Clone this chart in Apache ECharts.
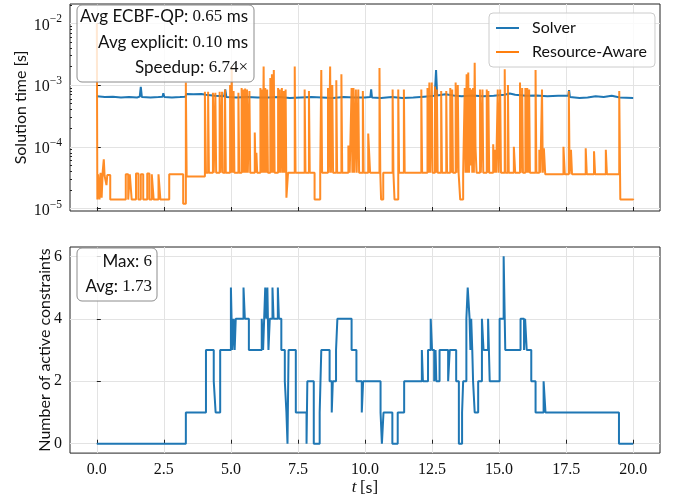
<!DOCTYPE html>
<html>
<head>
<meta charset="utf-8">
<script src="https://cdn.jsdelivr.net/npm/echarts@6/dist/echarts.min.js"></script>
<style>
  html, body { margin: 0; padding: 0; background: #fff; }
  #main { width: 673px; height: 497px; }
</style>
</head>
<body>
<div id="main"></div>
<script>
// tick values
const xTicks = [0, 2.5, 5, 7.5, 10, 12.5, 15, 17.5, 20];
const logTicks = [1e-5, 1e-4, 1e-3, 1e-2];
const logMinor = [];
[1e-5, 1e-4, 1e-3].forEach(function (d) {
  for (let k = 2; k <= 9; k++) logMinor.push(d * k);
});
logMinor.push(2e-2);
const countTicks = [0, 2, 4, 6];

// solver time (blue), [t, seconds]
const solver = [
  [0, 6.6e-4], [0.3, 6.4e-4], [0.6, 6.5e-4], [0.9, 6.3e-4], [1.2, 6.4e-4], [1.5, 6.3e-4],
  [1.6, 6.5e-4], [1.64, 9.4e-4], [1.68, 6.4e-4], [2.0, 6.3e-4], [2.3, 6.4e-4], [2.45, 6.5e-4],
  [2.48, 7.4e-4], [2.52, 6.4e-4], [2.8, 6.3e-4], [3.1, 6.4e-4], [3.3, 6.5e-4], [3.35, 7.2e-4],
  [3.6, 7.1e-4], [3.9, 7.2e-4], [4.06, 7.0e-4], [4.1, 6.6e-4], [4.4, 6.7e-4], [4.75, 6.6e-4],
  [4.79, 8.5e-4], [4.83, 6.4e-4], [5.2, 6.3e-4], [5.6, 6.4e-4], [6.0, 6.3e-4], [6.4, 6.3e-4],
  [6.8, 6.4e-4], [7.2, 6.2e-4], [7.6, 6.3e-4], [8.0, 6.4e-4], [8.4, 6.3e-4], [8.8, 6.2e-4],
  [9.2, 6.4e-4], [9.6, 6.3e-4], [10.0, 6.3e-4], [10.2, 6.4e-4], [10.23, 8.5e-4], [10.26, 6.3e-4],
  [10.6, 6.2e-4], [11.0, 6.4e-4], [11.4, 6.2e-4], [11.8, 6.3e-4], [12.2, 6.5e-4], [12.6, 6.7e-4],
  [12.65, 1.75e-3], [12.69, 6.8e-4], [13.0, 7.1e-4], [13.3, 6.8e-4], [13.6, 6.6e-4], [14.0, 6.8e-4],
  [14.4, 6.6e-4], [14.8, 6.7e-4], [15.2, 7.0e-4], [15.4, 7.3e-4], [15.6, 7.0e-4], [16.0, 6.7e-4],
  [16.4, 6.8e-4], [16.8, 6.6e-4], [17.2, 6.7e-4], [17.58, 6.7e-4], [17.61, 8.3e-4], [17.64, 6.4e-4],
  [18.0, 6.2e-4], [18.3, 6.3e-4], [18.6, 6.6e-4], [18.9, 6.4e-4], [19.2, 6.7e-4], [19.5, 6.3e-4],
  [20.0, 6.2e-4]
];

// resource-aware time (orange), [t, seconds], value holds until next t
const resourceAware = [
  [0, 1.0e-2], [0.02, 1.4e-5], [0.05, 3.6e-5], [0.10, 1.4e-5], [0.14, 3.8e-5], [0.18, 1.5e-5],
  [0.22, 4.0e-5], [0.26, 6.3e-5], [0.29, 3.4e-5], [0.36, 2.4e-5], [0.39, 3.5e-5], [0.50, 1.4e-5],
  [1.08, 3.6e-5], [1.17, 1.4e-5], [1.23, 3.6e-5], [1.30, 1.4e-5], [1.46, 3.7e-5], [1.55, 1.4e-5],
  [1.64, 3.6e-5], [1.73, 1.4e-5], [1.88, 3.7e-5], [1.96, 1.4e-5], [2.05, 3.6e-5], [2.12, 1.4e-5],
  [2.30, 3.6e-5], [2.37, 1.4e-5], [2.70, 3.6e-5], [3.22, 1.2e-5], [3.32, 1.1e-3], [3.35, 3.3e-5],
  [4.03, 7.8e-4], [4.07, 3.8e-5], [4.15, 7.8e-4], [4.18, 3.8e-5], [4.33, 7.5e-4], [4.36, 3.8e-5],
  [4.42, 7.5e-4], [4.45, 3.8e-5], [4.58, 7.8e-4], [4.62, 3.8e-5], [4.67, 7.8e-4], [4.70, 3.8e-5],
  [4.78, 8.5e-4], [4.81, 3.8e-5], [4.97, 1.0e-3], [5.00, 3.8e-5], [5.03, 2.0e-3], [5.06, 3.8e-5],
  [5.10, 8.0e-4], [5.13, 3.8e-5], [5.28, 7.5e-4], [5.31, 3.8e-5], [5.40, 9.0e-4], [5.43, 3.8e-5],
  [5.47, 8.5e-4], [5.50, 3.8e-5], [5.53, 8.8e-4], [5.56, 3.8e-5], [5.60, 8.5e-4], [5.63, 3.8e-5],
  [5.69, 8.0e-4], [5.72, 3.8e-5], [5.89, 1.7e-4], [5.92, 3.8e-5], [5.95, 8.0e-5], [5.98, 3.8e-5],
  [6.10, 9.0e-4], [6.13, 3.8e-5], [6.16, 8.5e-4], [6.19, 3.8e-5], [6.22, 2.0e-3], [6.25, 3.8e-5],
  [6.28, 9.0e-4], [6.31, 3.8e-5], [6.35, 8.5e-4], [6.38, 3.8e-5], [6.47, 1.3e-3], [6.50, 3.8e-5],
  [6.53, 1.5e-3], [6.56, 3.8e-5], [6.60, 1.75e-3], [6.63, 3.8e-5], [6.76, 9.0e-4], [6.79, 3.8e-5],
  [6.82, 8.5e-4], [6.85, 3.8e-5], [6.90, 9.0e-4], [6.93, 3.8e-5], [6.97, 8.0e-4], [7.00, 3.8e-5],
  [7.04, 8.5e-4], [7.07, 1.5e-5], [7.13, 3.8e-5], [7.38, 2.0e-3], [7.41, 3.8e-5], [7.75, 8.5e-4],
  [7.78, 3.8e-5], [7.91, 8.0e-4], [7.94, 3.8e-5], [8.12, 1.4e-5], [8.33, 3.8e-5], [8.37, 1.75e-3],
  [8.40, 3.8e-5], [8.62, 9.0e-4], [8.65, 3.8e-5], [8.70, 2.0e-3], [8.73, 3.8e-5], [8.78, 1.0e-3],
  [8.81, 3.8e-5], [8.93, 1.2e-3], [8.96, 3.8e-5], [9.12, 1.5e-3], [9.15, 3.8e-5], [9.38, 1.05e-4],
  [9.43, 3.8e-5], [9.50, 9.0e-4], [9.53, 3.8e-5], [9.57, 9.0e-4], [9.60, 3.8e-5], [9.66, 8.5e-4],
  [9.69, 3.8e-5], [9.75, 8.5e-4], [9.78, 3.8e-5], [9.92, 8.0e-4], [9.95, 3.8e-5], [10.12, 1.65e-4],
  [10.19, 3.8e-5], [10.54, 1.9e-3], [10.57, 3.8e-5], [10.60, 1.4e-5], [10.68, 3.8e-5], [11.03, 8.5e-4],
  [11.06, 3.8e-5], [11.10, 1.4e-5], [11.24, 8.5e-4], [11.27, 3.8e-5], [11.45, 8.5e-4], [11.48, 3.8e-5],
  [12.10, 8.5e-4], [12.13, 3.8e-5], [12.33, 9.0e-4], [12.36, 3.8e-5], [12.40, 1.1e-3], [12.43, 3.8e-5],
  [12.49, 1.1e-3], [12.52, 3.8e-5], [12.61, 9.5e-4], [12.64, 3.8e-5], [12.68, 8.5e-4], [12.71, 3.8e-5],
  [12.84, 8.0e-4], [12.87, 3.8e-5], [13.03, 8.0e-4], [13.06, 3.8e-5], [13.18, 9.0e-4], [13.21, 3.8e-5],
  [13.25, 8.5e-4], [13.28, 3.8e-5], [13.38, 1.1e-3], [13.41, 3.8e-5], [13.46, 1.0e-3], [13.49, 3.8e-5],
  [13.55, 1.4e-5], [13.66, 3.8e-5], [13.72, 9.0e-4], [13.75, 3.8e-5], [13.79, 1.5e-3], [13.82, 3.8e-5],
  [13.85, 1.6e-3], [13.88, 3.8e-5], [13.91, 9.0e-4], [13.94, 5.0e-5], [13.97, 8.5e-4], [14.00, 3.8e-5],
  [14.03, 9.0e-4], [14.06, 3.8e-5], [14.09, 2.3e-3], [14.12, 1.0e-4], [14.16, 3.8e-5], [14.29, 8.5e-4],
  [14.32, 3.8e-5], [14.38, 8.5e-4], [14.41, 3.8e-5], [14.54, 8.5e-4], [14.57, 3.8e-5], [14.60, 8.0e-4],
  [14.63, 3.8e-5], [14.78, 1.1e-4], [14.82, 3.8e-5], [14.86, 9.0e-5], [14.89, 3.8e-5], [14.95, 8.5e-4],
  [14.98, 3.8e-5], [15.04, 8.5e-4], [15.07, 3.8e-5], [15.21, 1.8e-3], [15.24, 3.8e-5], [15.33, 1.0e-3],
  [15.36, 3.8e-5], [15.55, 1.0e-4], [15.60, 3.8e-5], [15.78, 1.1e-3], [15.81, 3.8e-5], [15.86, 9.0e-4],
  [15.89, 3.8e-5], [15.98, 9.0e-4], [16.01, 3.8e-5], [16.05, 9.0e-4], [16.08, 3.8e-5], [16.12, 8.5e-4],
  [16.15, 3.8e-5], [16.36, 1.75e-3], [16.39, 3.8e-5], [16.50, 9.0e-5], [16.54, 3.8e-5], [16.60, 8.5e-4],
  [16.63, 3.8e-5], [16.67, 9.5e-5], [16.72, 3.6e-5], [17.40, 1.0e-4], [17.45, 3.6e-5], [17.60, 8.0e-4],
  [17.63, 3.6e-5], [17.68, 9.0e-5], [17.72, 3.6e-5], [18.23, 9.5e-5], [18.27, 3.6e-5], [18.54, 8.5e-5],
  [18.58, 3.6e-5], [18.98, 9.0e-5], [19.02, 3.6e-5], [19.48, 8.0e-4], [19.52, 1.4e-5], [20.0, 1.45e-5]
];

// number of active constraints, [t, count], value holds until next t
const activeConstraints = [
  [0, 0], [3.32, 1], [4.07, 3], [4.36, 2], [4.43, 1], [4.60, 3], [5.00, 5], [5.05, 3], [5.10, 4],
  [5.14, 3], [5.18, 4], [5.47, 5], [5.52, 4], [5.67, 3], [6.15, 4], [6.20, 3], [6.24, 4], [6.28, 5],
  [6.32, 4], [6.36, 5], [6.40, 3], [6.45, 4], [6.55, 5], [6.59, 4], [6.75, 5], [6.79, 4], [6.88, 3],
  [7.01, 2], [7.07, 1], [7.11, 0], [7.15, 3], [7.42, 1], [7.82, 0], [7.85, 2], [8.09, 0],
  [8.31, 1], [8.37, 3], [8.68, 2], [8.76, 1], [8.80, 2], [8.92, 3], [8.97, 4], [9.50, 3], [9.68, 2],
  [9.88, 1], [9.93, 2], [10.58, 1], [10.63, 0], [10.69, 1], [11.02, 0], [11.22, 1], [11.46, 2],
  [12.12, 3], [12.16, 2], [12.35, 3], [12.45, 4], [12.50, 3], [12.58, 2], [12.63, 3], [12.66, 2],
  [12.78, 3], [13.10, 2], [13.16, 3], [13.40, 2], [13.50, 0], [13.62, 1], [13.66, 2],
  [13.78, 4], [13.83, 5], [13.90, 4], [13.93, 3], [13.96, 4], [14.00, 3], [14.03, 2], [14.09, 1],
  [14.22, 2], [14.36, 4], [14.42, 3], [14.59, 4], [14.65, 2], [15.02, 4], [15.17, 6], [15.23, 3],
  [15.80, 4], [15.93, 3], [15.97, 4], [16.03, 3], [16.20, 2], [16.36, 1], [16.66, 2], [16.73, 1],
  [19.47, 0], [20.0, 0]
];

const sans = 'Lato';
const serif = 'Liberation Serif';
const gridColor = '#e3e3e3';
const textColor = '#111';

const chart = echarts.init(document.getElementById('main'), null, { renderer: 'canvas' });

function xAxisCfg(gridIndex, showLabels) {
  return {
    type: 'value', gridIndex: gridIndex, min: -1, max: 21,
    axisLine: { show: false },
    axisTick: { show: true, inside: true, length: 4, customValues: xTicks, lineStyle: { color: '#222' } },
    axisLabel: {
      show: showLabels, customValues: xTicks, margin: 9,
      fontFamily: serif, fontSize: 16, color: textColor,
      formatter: function (v) { return v.toFixed(1); }
    },
    splitLine: { show: true, lineStyle: { color: gridColor, width: 1 } },
    name: showLabels ? '{i|t} {r|[}{s|s}{r|]}' : '',
    nameLocation: 'middle', nameGap: 23,
    nameTextStyle: {
      rich: {
        i: { fontFamily: serif, fontStyle: 'italic', fontSize: 17, color: textColor },
        r: { fontFamily: serif, fontSize: 17, color: textColor },
        s: { fontFamily: sans, fontSize: 16, color: textColor }
      }
    }
  };
}

const option = {
  animation: false,
  backgroundColor: '#fff',
  grid: [
    { left: 70, top: 4, width: 590, height: 207, show: true, borderColor: '#222', borderWidth: 1, backgroundColor: 'transparent' },
    { left: 70, top: 247, width: 590, height: 208, show: true, borderColor: '#222', borderWidth: 1, backgroundColor: 'transparent' }
  ],
  legend: {
    data: ['Solver', 'Resource-Aware'],
    orient: 'vertical',
    left: 489, top: 13,
    padding: [7, 8, 7, 7],
    itemWidth: 23, itemHeight: 2, itemGap: 8,
    icon: 'rect',
    backgroundColor: 'rgba(255,255,255,0.8)',
    borderColor: '#cccccc', borderWidth: 1, borderRadius: 4,
    textStyle: { fontFamily: sans, fontSize: 16, color: textColor, lineHeight: 16, padding: [0, 0, 0, 8] },
    z: 20
  },
  xAxis: [xAxisCfg(0, false), xAxisCfg(1, true)],
  yAxis: [
    {
      type: 'log', logBase: 10, gridIndex: 0, min: 9.14e-6, max: 2.06e-2,
      axisLine: { show: false },
      axisTick: { show: true, inside: true, length: 4, customValues: logTicks, lineStyle: { color: '#222' } },
      axisLabel: {
        customValues: logTicks, margin: 8,
        formatter: function (v) {
          const e = Math.round(Math.log10(v));
          return '{b|10}{e|\u2212' + (-e) + '}';
        },
        rich: {
          b: { fontFamily: serif, fontSize: 16, color: textColor, verticalAlign: 'bottom', lineHeight: 20 },
          e: { fontFamily: serif, fontSize: 11.5, color: textColor, verticalAlign: 'top', lineHeight: 20 }
        }
      },
      splitLine: { show: true, lineStyle: { color: gridColor, width: 1 } },
      minorTick: { show: false },
      name: 'Solution time [s]', nameLocation: 'middle', nameGap: 41, nameMoveOverlap: false,
      nameTextStyle: { fontFamily: sans, fontSize: 16, color: textColor }
    },
    {
      // minor ticks of the log axis
      type: 'log', logBase: 10, gridIndex: 0, min: 9.14e-6, max: 2.06e-2, position: 'left',
      axisLine: { show: false },
      axisTick: { show: true, inside: true, length: 2, customValues: logMinor, lineStyle: { color: '#222' } },
      axisLabel: { show: false },
      splitLine: { show: false }
    },
    {
      type: 'value', gridIndex: 1, min: -0.3, max: 6.3,
      axisLine: { show: false },
      axisTick: { show: true, inside: true, length: 4, customValues: countTicks, lineStyle: { color: '#222' } },
      axisLabel: {
        customValues: countTicks, margin: 8,
        fontFamily: serif, fontSize: 16, color: textColor
      },
      splitLine: { show: true, lineStyle: { color: gridColor, width: 1 } },
      name: 'Number of active constraints', nameLocation: 'middle', nameGap: 17, nameMoveOverlap: false,
      nameTextStyle: { fontFamily: sans, fontSize: 16, color: textColor }
    }
  ],
  series: [
    {
      name: 'Solver', type: 'line', xAxisIndex: 0, yAxisIndex: 0,
      data: solver, showSymbol: false, symbol: 'none',
      lineStyle: { color: '#1f77b4', width: 2 },
      itemStyle: { color: '#1f77b4' }, z: 2
    },
    {
      name: 'Resource-Aware', type: 'line', xAxisIndex: 0, yAxisIndex: 0,
      data: resourceAware, step: 'end', showSymbol: false, symbol: 'none',
      lineStyle: { color: '#ff7f0e', width: 2, opacity: 0.9 },
      itemStyle: { color: '#ff7f0e' }, z: 3
    },
    {
      name: 'Active', type: 'line', xAxisIndex: 1, yAxisIndex: 2,
      data: activeConstraints, step: 'end', showSymbol: false, symbol: 'none',
      lineStyle: { color: '#1f77b4', width: 2 },
      itemStyle: { color: '#1f77b4' }, z: 2
    }
  ],
  graphic: [
    { type: 'rect', z: 100, shape: { x: 77, y: 5, width: 177, height: 77, r: 5 },
      style: { fill: 'rgba(255,255,255,0.8)', stroke: '#8c8c8c', lineWidth: 1 } },
    { type: 'text', z: 101, style: { x: 248, y: 17, align: 'right', verticalAlign: 'middle',
      text: '{a|Avg ECBF-QP: }{n|0.65}{a| ms}' } },
    { type: 'text', z: 101, style: { x: 248, y: 43, align: 'right', verticalAlign: 'middle',
      text: '{a|Avg explicit: }{n|0.10}{a| ms}' } },
    { type: 'text', z: 101, style: { x: 248, y: 68, align: 'right', verticalAlign: 'middle',
      text: '{a|Speedup: }{n|6.74\u00d7}' } },
    { type: 'rect', z: 100, shape: { x: 77, y: 248, width: 80, height: 53, r: 5 },
      style: { fill: 'rgba(255,255,255,0.8)', stroke: '#8c8c8c', lineWidth: 1 } },
    { type: 'text', z: 101, style: { x: 152, y: 262, align: 'right', verticalAlign: 'middle',
      text: '{a|Max: }{n|6}' } },
    { type: 'text', z: 101, style: { x: 152, y: 287, align: 'right', verticalAlign: 'middle',
      text: '{a|Avg: }{n|1.73}' } }
  ]
};

// shared rich styles for the annotation boxes
const boxRich = {
  a: { fontFamily: sans, fontSize: 17, fill: textColor },
  n: { fontFamily: serif, fontSize: 17, fill: textColor }
};
option.graphic.forEach(function (g) {
  if (g.type === 'text') g.style.rich = boxRich;
});

chart.setOption(option);
</script>
</body>
</html>
